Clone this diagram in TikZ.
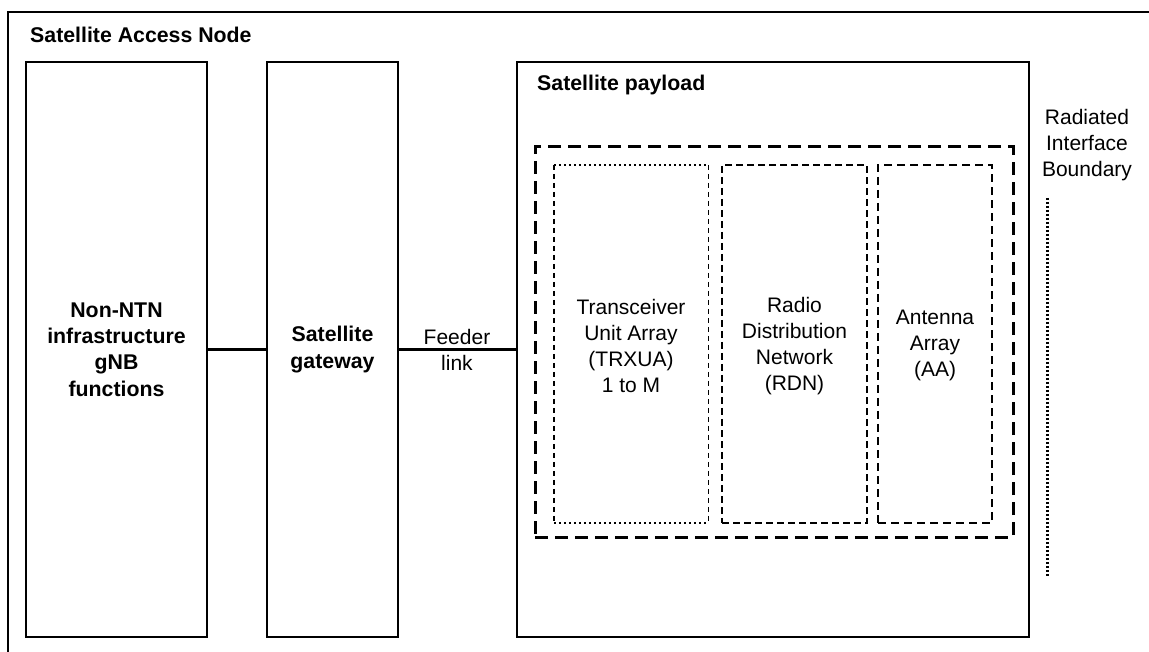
\documentclass[tikz,border=0pt]{standalone}
\usepackage{fontspec}
\setmainfont{Liberation Sans}
\begin{document}
\begin{tikzpicture}[x=1pt,y=-1pt,
  solidbox/.style={draw,line width=2.2pt,rectangle,inner sep=0pt,minimum height=575pt},
  plain/.style={font=\fontsize{21}{26}\selectfont,align=center,inner sep=0pt},
  boldtxt/.style={font=\fontsize{21.3}{26.3}\selectfont\bfseries,align=center,inner sep=0pt},
  innerbox/.style={rectangle,inner sep=0pt,minimum height=358pt},
  conn/.style={line width=2.2pt}]
\useasboundingbox (0,0) rectangle (1149,652);
\fill[white] (0,0) rectangle (1149,652);
% outer frame (only left and top edges visible)
\coordinate (fbl) at (8,660);
\coordinate (ftl) at (8,12);
\coordinate (ftr) at (1160,12);
\draw[line width=2.2pt] (fbl) -- (ftl) -- (ftr);
\node[boldtxt,anchor=base west] (san) at (30,43) {Satellite Access Node};
% solid boxes
\node[solidbox,minimum width=181pt,boldtxt] (gnb) at (116.5,349.5) {Non-NTN\\infrastructure\\gNB\\functions};
\node[solidbox,minimum width=131pt,boldtxt] (gw) at (332.5,349.5) {Satellite\\gateway};
\node[solidbox,minimum width=512pt] (pl) at (773,349.5) {};
\node[boldtxt,anchor=base west] (plt) at (537,91) {Satellite payload};
% connectors
\draw[conn] (gnb.east) -- (gw.west);
\draw[conn] (gw.east) -- (pl.west);
\node[plain] (feed) at (457,350) {Feeder\\link};
% dashed payload group
\node[rectangle,inner sep=0pt,minimum width=478pt,minimum height=390pt,draw,line width=3pt,dash pattern=on 13pt off 7pt] (grp) at (774,342) {};
% TRXUA
\node[innerbox,minimum width=154pt] (trx) at (631,344) {};
\draw[line width=2.2pt,dash pattern=on 2pt off 3pt] (trx.north west) -- (trx.north east);
\draw[line width=2.2pt,dash pattern=on 2pt off 3pt] (trx.south west) -- (trx.south east);
\draw[line width=1.4pt,dash pattern=on 5pt off 4pt] (trx.north west) -- (trx.south west);
\draw[line width=1.4pt,dash pattern=on 5pt off 4pt] (trx.north east) -- (trx.south east);
\node[plain] (trxt) at (631,346) {Transceiver\\Unit Array\\(TRXUA)\\1 to M};
% RDN
\node[innerbox,minimum width=145pt,draw,line width=2.3pt,dash pattern=on 7pt off 4pt] (rdn) at (794.5,344) {};
\node[plain] (rdnt) at (794.5,346) {Radio\\Distribution\\Network\\(RDN)};
% AA
\node[innerbox,minimum width=114pt,draw,line width=2.6pt,dash pattern=on 8pt off 5pt] (aa) at (935,344) {};
\node[plain] (aat) at (935,345) {Antenna\\Array\\(AA)};
% radiated interface boundary
\node[plain] (rib) at (1087,145) {Radiated\\Interface\\Boundary};
\coordinate (r1) at (1047,198);
\coordinate (r2) at (1047,577);
\draw[line width=3pt,dash pattern=on 2pt off 2pt] (r1) -- (r2);
\end{tikzpicture}
\end{document}
